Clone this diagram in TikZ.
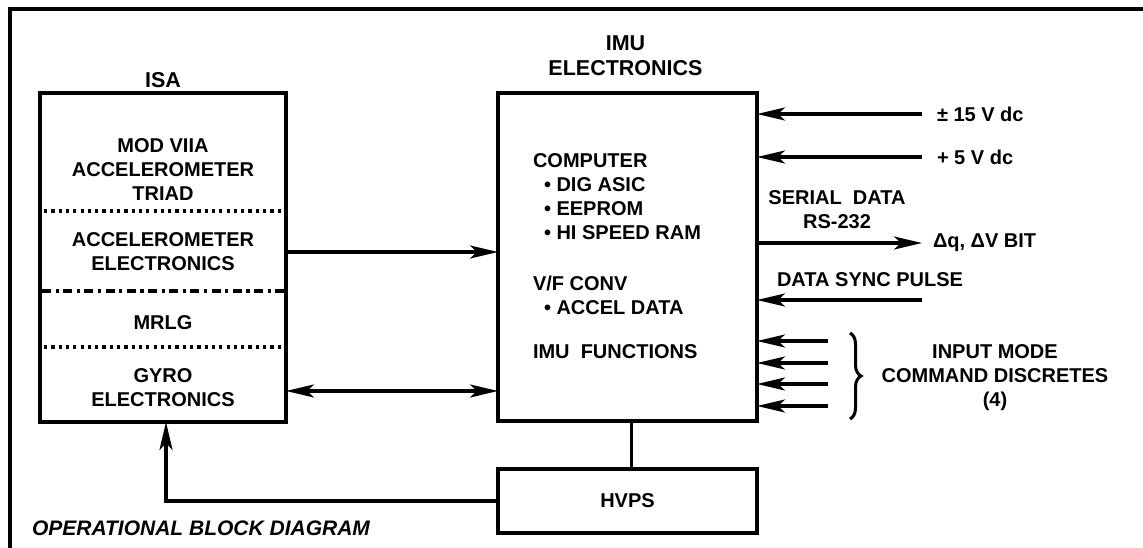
\documentclass[tikz,border=0pt]{standalone}
\usepackage{fontspec}
\setmainfont{Liberation Sans}
\usetikzlibrary{arrows.meta,decorations.pathreplacing}
\begin{document}
\begin{tikzpicture}[x=1pt,y=-1pt,
  every node/.style={inner sep=0pt, outer sep=0pt},
  bodytxt/.style={font=\fontsize{20}{24}\selectfont\bfseries, align=center},
  headtxt/.style={font=\fontsize{21.5}{25}\selectfont\bfseries, align=center},
  blockbox/.style={draw, line width=3.6pt, minimum width=#1},
  conn/.style={line width=3.1pt},
  arr/.style={conn, -{Stealth[length=28pt,width=13pt,inset=7pt]}},
  darr/.style={conn, {Stealth[length=28pt,width=13pt,inset=7pt]}-{Stealth[length=28pt,width=13pt,inset=7pt]}},
  dotline/.style={line width=3.2pt, dash pattern=on 3.2pt off 4.1pt},
  dashdotline/.style={line width=3.2pt, dash pattern=on 9pt off 4.5pt on 3.2pt off 4.5pt},
]
\useasboundingbox (0,0) rectangle (1143,548);
% frame
\draw[line width=4pt] (9.5,548) -- (9.5,9) -- (1143,9);

% ISA block
\node[blockbox=246pt, minimum height=329pt] (isa) at (163,257.5) {};
\node[headtxt] (isalbl) at (163,80) {ISA};
\draw[dotline] ([xshift=4pt]isa.west |- 0,211) -- ([xshift=-2pt]isa.east |- 0,211);
\draw[dashdotline] ([xshift=2pt]isa.west |- 0,291) -- ([xshift=-2pt]isa.east |- 0,291);
\draw[dotline] ([xshift=4pt]isa.west |- 0,347) -- ([xshift=-2pt]isa.east |- 0,347);
\node[bodytxt] (triad) at (163,170) {MOD VIIA\\ACCELEROMETER\\TRIAD};
\node[bodytxt] (accel) at (163,252) {ACCELEROMETER\\ELECTRONICS};
\node[bodytxt] (mrlg) at (163,323) {MRLG};
\node[bodytxt] (gyro) at (163,388) {GYRO\\ELECTRONICS};

% IMU block
\node[blockbox=259pt, minimum height=328pt] (imu) at (627.5,257) {};
\node[headtxt] (imulbl) at (625.5,56) {IMU\\ELECTRONICS};
\node[bodytxt, align=left, anchor=west] (comp) at (533,197) {COMPUTER\\\hspace*{11pt}•\ DIG ASIC\\\hspace*{11pt}•\ EEPROM\\\hspace*{11pt}•\ HI SPEED RAM};
\node[bodytxt, align=left, anchor=west] (vf) at (533,295) {V/F CONV\\\hspace*{11pt}•\ ACCEL DATA};
\node[bodytxt, align=left, anchor=west] (fn) at (533,352) {IMU\ \ FUNCTIONS};

% HVPS
\node[blockbox=259pt, minimum height=64pt, bodytxt] (hvps) at (627.5,501) {HVPS};

% ISA <-> IMU
\draw[arr] (isa.east |- 0,252) -- (imu.west |- 0,252);
\draw[darr] (isa.east |- 0,391) -- (imu.west |- 0,391);
\draw[conn] ([xshift=4pt]imu.south) -- ([xshift=4pt]hvps.north);
\draw[arr] (hvps.west) -| ([xshift=3pt]isa.south);

% right side inputs/outputs
\coordinate (p15) at (922,114);
\coordinate (p5) at (922,157);
\coordinate (pout) at (922,243);
\coordinate (psync) at (922,300);
\draw[arr] (p15) -- (imu.east |- p15);
\draw[arr] (p5) -- (imu.east |- p5);
\draw[arr] (imu.east |- pout) -- (pout);
\draw[arr] (psync) -- (imu.east |- psync);
\node[bodytxt, anchor=west] (l15) at (937,114) {± 15 V dc};
\node[bodytxt, anchor=west] (l5) at (937,157) {+ 5 V dc};
\node[bodytxt] (lser) at (837,210) {SERIAL\ \ DATA\\RS-232};
\node[bodytxt, anchor=west] (lout) at (933,243) {Δq, ΔV BIT};
\node[bodytxt] (lsync) at (870,280) {DATA SYNC PULSE};

\foreach \yy [count=\i] in {341,363,384,406}{
  \coordinate (d\i) at (828,\yy);
  \draw[arr] (d\i) -- (imu.east |- d\i);
}
\coordinate (bt) at (850,333);
\coordinate (bb) at (850,419);
\draw[line width=3pt, decorate, decoration={brace, amplitude=11pt}] (bt) -- (bb);
\node[bodytxt] (lin) at (995,378) {INPUT MODE\\COMMAND DISCRETES\\(4)};

\node[font=\fontsize{21}{25}\selectfont\bfseries\itshape, anchor=west] (title) at (32,528) {OPERATIONAL BLOCK DIAGRAM};
\end{tikzpicture}
\end{document}
